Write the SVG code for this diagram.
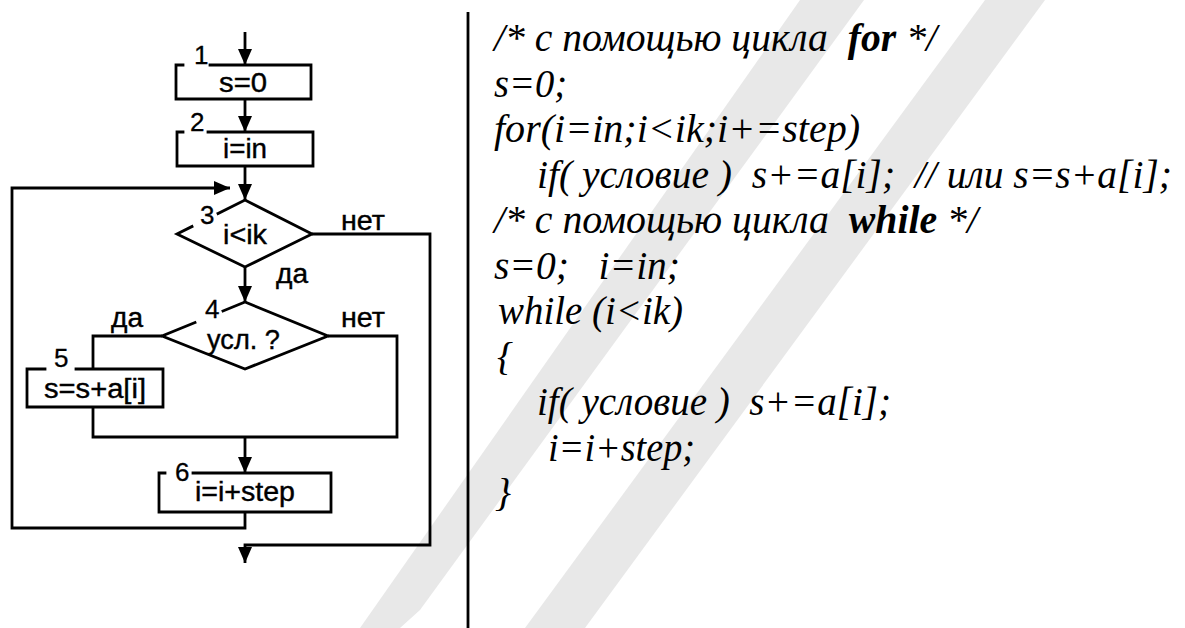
<svg xmlns="http://www.w3.org/2000/svg" width="1185" height="628" viewBox="0 0 1185 628">
<defs>
<marker id="ah" markerUnits="userSpaceOnUse" markerWidth="16" markerHeight="14" refX="16" refY="7" orient="auto">
<path d="M0,0 L16,7 L0,14 z" fill="#000"/>
</marker>
</defs>
<style>
.ln{fill:none;stroke:#000;stroke-width:2.8;stroke-linejoin:miter;stroke-linecap:square}
.cn{fill:none;stroke:#000;stroke-width:2.8;stroke-linecap:butt}
.fl{font-family:'Liberation Sans',Arial,sans-serif;font-size:27px;fill:#000;stroke:#000;stroke-width:0.4}
.nm{font-family:'Liberation Sans',Arial,sans-serif;font-size:26px;fill:#000;stroke:#000;stroke-width:0.3}
.cd{font-family:'Liberation Serif','Times New Roman',serif;font-style:italic;font-size:40px;fill:#000}
.wm{fill:#e8e8e8}
</style>
<rect width="1185" height="628" fill="#fff"/>
<g id="watermark">
<polygon class="wm" points="800,0 864,0 420,610 400,628 360,628"/>
<polygon class="wm" points="985,0 1045,0 585,628 525,628"/>
</g>
<line x1="468" y1="12" x2="468" y2="628" stroke="#000" stroke-width="2.8"/>
<g id="connectors">
<path class="cn" d="M245,32 V65" marker-end="url(#ah)"/>
<path class="cn" d="M245,99 V132" marker-end="url(#ah)"/>
<path class="cn" d="M245,166 V200" marker-end="url(#ah)"/>
<path class="cn" d="M245,512 V528 H12 V188 H230" marker-end="url(#ah)"/>
<path class="cn" d="M245,267 V302" marker-end="url(#ah)"/>
<path class="cn" d="M312,234 H430 V545 H245 V563" marker-end="url(#ah)"/>
<path class="cn" d="M162,336 H93 V369"/>
<path class="cn" d="M93,407 V437 H397 V336 H328"/>
<path class="cn" d="M245,437 V473" marker-end="url(#ah)"/>
</g>
<g id="node1">
<path class="ln" d="M210,65 H311 V99 H176 V65 H183"/>
<text class="nm" x="194" y="64">1</text>
<text class="fl" x="219" y="92" textLength="48" lengthAdjust="spacingAndGlyphs">s=0</text>
</g>
<g id="node2">
<path class="ln" d="M208,132 H313 V166 H177 V132 H183"/>
<text class="nm" x="190" y="131">2</text>
<text class="fl" x="223" y="158" textLength="44" lengthAdjust="spacingAndGlyphs">i=in</text>
</g>
<g id="node3">
<path class="ln" d="M218,213.5 L245,200 L312,234 L245,267 L177,234 L192,226.5"/>
<text class="nm" x="200" y="224">3</text>
<text class="fl" x="223" y="244" textLength="44" lengthAdjust="spacingAndGlyphs">i&lt;ik</text>
<text class="fl" x="341" y="230" textLength="44" lengthAdjust="spacingAndGlyphs">нет</text>
<text class="fl" x="276" y="283" textLength="32" lengthAdjust="spacingAndGlyphs">да</text>
</g>
<g id="node4">
<path class="ln" d="M223,311 L245,302 L328,336 L245,369 L162,336 L195,322.5"/>
<text class="nm" x="205" y="318">4</text>
<text class="fl" x="207" y="349" textLength="73" lengthAdjust="spacingAndGlyphs">усл. ?</text>
<text class="fl" x="111" y="327" textLength="32" lengthAdjust="spacingAndGlyphs">да</text>
<text class="fl" x="341" y="327" textLength="44" lengthAdjust="spacingAndGlyphs">нет</text>
</g>
<g id="node5">
<path class="ln" d="M76,369 H163 V407 H27 V369 H45"/>
<text class="nm" x="54" y="367">5</text>
<text class="fl" x="44" y="398" textLength="102" lengthAdjust="spacingAndGlyphs">s=s+a[i]</text>
</g>
<g id="node6">
<path class="ln" d="M193,473 H331 V512 H159 V473 H165"/>
<text class="nm" x="175" y="481">6</text>
<text class="fl" x="195" y="501" textLength="100" lengthAdjust="spacingAndGlyphs">i=i+step</text>
</g>
<g id="code" font-family="Liberation Serif, Times New Roman, serif" font-style="italic">
<text class="cd" x="494" y="51" xml:space="preserve" textLength="443" lengthAdjust="spacingAndGlyphs">/* с помощью цикла  <tspan font-weight="bold">for</tspan> */</text>
<text class="cd" x="494" y="96.5" textLength="73" lengthAdjust="spacingAndGlyphs">s=0;</text>
<text class="cd" x="494" y="142" textLength="366" lengthAdjust="spacingAndGlyphs">for(i=in;i&lt;ik;i+=step)</text>
<text class="cd" x="537" y="187.5" xml:space="preserve" textLength="635" lengthAdjust="spacingAndGlyphs">if( условие )  s+=a[i];  // или s=s+a[i];</text>
<text class="cd" x="494" y="233" xml:space="preserve" textLength="484" lengthAdjust="spacingAndGlyphs">/* с помощью цикла  <tspan font-weight="bold">while</tspan> */</text>
<text class="cd" x="494" y="278.5" xml:space="preserve" textLength="186" lengthAdjust="spacingAndGlyphs">s=0;   i=in;</text>
<text class="cd" x="498" y="324" xml:space="preserve" textLength="185" lengthAdjust="spacingAndGlyphs">while (i&lt;ik)</text>
<text class="cd" x="497" y="369.5">{</text>
<text class="cd" x="537" y="415" xml:space="preserve" textLength="354" lengthAdjust="spacingAndGlyphs">if( условие )  s+=a[i];</text>
<text class="cd" x="548" y="460.5" textLength="147" lengthAdjust="spacingAndGlyphs">i=i+step;</text>
<text class="cd" x="495" y="506">}</text>
</g>
</svg>
